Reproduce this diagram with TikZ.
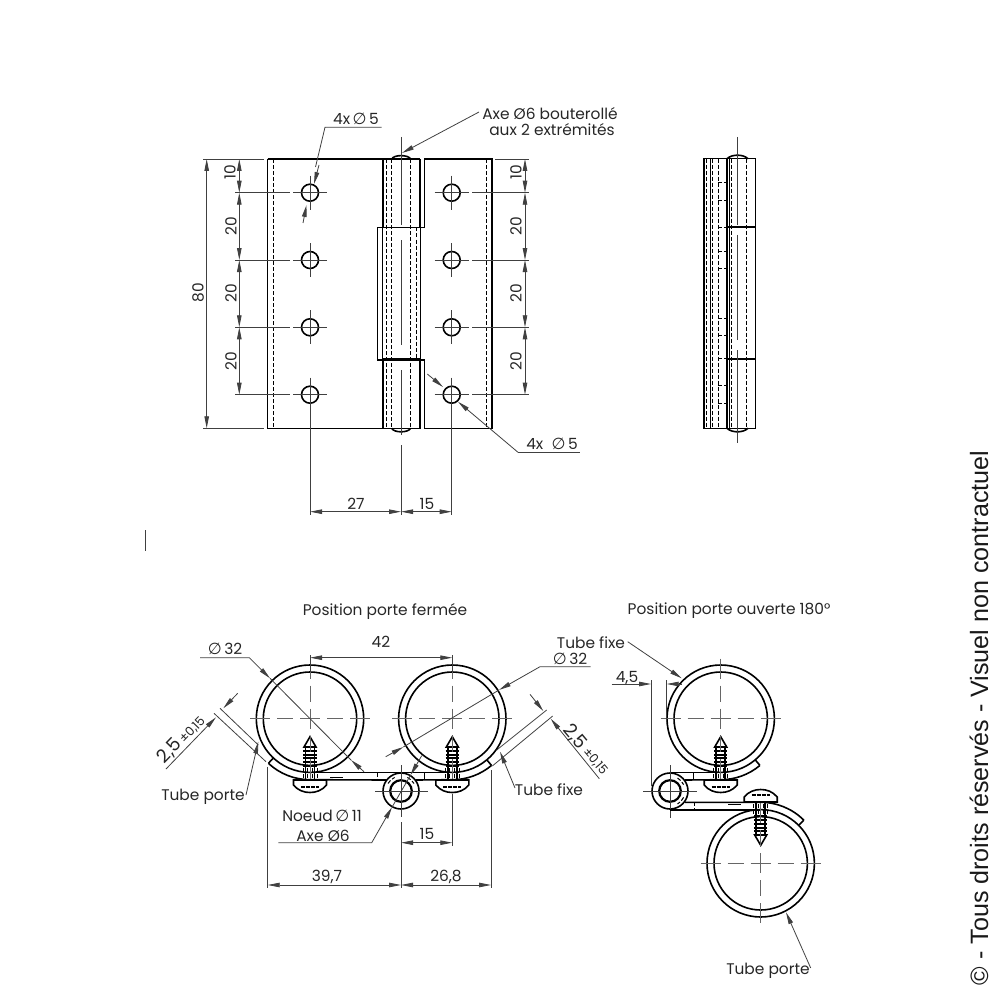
\documentclass[tikz,border=0pt]{standalone}
\usepackage{fontspec}
\setmainfont{Poppins}
\newfontfamily\symfont{DejaVu Sans}
\newfontfamily\notefont{Liberation Sans}
\usetikzlibrary{arrows.meta}
\newcommand{\diam}{{\symfont\fontsize{16}{16}\selectfont ∅}}
\tikzset{
  >={Triangle[length=12pt,width=4.5pt]},
  outline/.style={draw=black,line width=1.6pt},
  hidden/.style={draw=black,line width=1pt,dash pattern=on 4pt off 2pt},
  thinline/.style={draw=black!75,line width=0.8pt},
  dimline/.style={draw=black!75,line width=0.8pt,<->},
  axisline/.style={draw=black!60,line width=0.8pt,dash pattern=on 20pt off 7pt on 16pt off 7pt},
  label/.style={inner sep=0pt,text=black!85,font=\fontsize{15.4}{17}\selectfont},
  wall/.style={inner sep=0pt,text=black!85,font=\fontsize{18.5}{20}\selectfont},
  small/.style={inner sep=0pt,text=black!85,font=\fontsize{12.5}{14}\selectfont},
  hole/.pic={
    \draw[outline] (0,0) circle (8.5);
    \draw[thinline] (-17,0) -- (17,0) (0,-17) -- (0,17);
  },
  screw/.pic={
    % head
    \draw[outline] (-16.5,0) -- (16.5,0) -- (16.5,5) .. controls (12,10.5) and (6,12.5) .. (0,12.5) .. controls (-6,12.5) and (-12,10.5) .. (-16.5,5) -- cycle;
    \draw[line width=1.6pt,dash pattern=on 4pt off 1pt] (-9,7) -- (9,7);
    % tip
    \draw[outline] (0,-43.3) -- (-6,-33) -- (6,-33) -- cycle;
    \draw[outline] (-4.5,-33) -- (-4.5,0) (4.5,-33) -- (4.5,0);
    % threads
    \draw[line width=2pt] (-6.7,-29.3) -- (6.7,-29.3) (-6.7,-25.5) -- (6.7,-25.5) (-6.7,-21.7) -- (6.7,-21.7) (-6.7,-18) -- (6.7,-18) (-6.7,-14.3) -- (6.7,-14.3);
    \draw[hidden] (-7,-12) -- (-7,0) (-2.5,-12) -- (-2.5,0) (2.5,-12) -- (2.5,0) (7,-12) -- (7,0);
  },
  knot/.pic={
    \draw[outline] (0,0) circle (18);
    \draw[line width=2.2pt] (0,0) circle (10.8);
  },
}
\begin{document}
\begin{tikzpicture}[x=1pt,y=-1pt]
  \useasboundingbox (0,0) rectangle (1000,1000);
  % front view, plates
  \draw[outline] (267.5,159) -- (420,159) (424.3,159) -- (491.7,159) -- (491.7,428.3) -- (424.3,428.3) -- (424.3,360) -- (377.3,360) -- (377.3,227.5) -- (424.3,227.5) -- (424.3,159);
  \draw[outline] (267.5,159) -- (267.5,428.3) -- (420,428.3) -- (420,360);
  \draw[outline] (420,159) -- (420,227.5) (382.7,159) -- (382.7,227.5) (382.7,360) -- (382.7,428.3);
  \draw[draw=black,line width=1pt] (382.7,227.5) -- (382.7,360) (420,227.5) -- (420,360);
  \draw[outline] (382.7,358.3) -- (420,358.3);
  \draw[outline] (391.7,159) .. controls (394,154.5) and (408,154.5) .. (410.7,159);
  \draw[outline] (391.7,428.3) .. controls (394,433) and (408,433) .. (410.7,428.3);
  \draw[hidden] (273.5,159) -- (273.5,428.3);
  \draw[hidden] (486,159) -- (486,428.3);
  \draw[hidden] (386.7,159) -- (386.7,428.3);
  \draw[hidden,line width=1.4pt] (391.7,159) -- (391.7,428.3);
  \draw[hidden,line width=1.4pt] (410.7,159) -- (410.7,428.3);
  \draw[hidden] (416.7,227.5) -- (416.7,360);
  % front view, holes
  \pic at (310,192.7) {hole};
  \pic at (310,260) {hole};
  \pic at (310,327.3) {hole};
  \pic at (310,394.7) {hole};
  \pic at (451.7,192.7) {hole};
  \pic at (451.7,260) {hole};
  \pic at (451.7,327.3) {hole};
  \pic at (451.7,394.7) {hole};
  % front view, axis and extension lines
  \draw[thinline] (401,137) -- (401,225) (401,240) -- (401,345) (401,370) -- (401,435) (401,445) -- (401,515);
  \draw[thinline] (203,159) -- (264,159) (203,428.3) -- (264,428.3) (495,159) -- (529,159);
  \draw[thinline] (235,192.7) -- (290,192.7) (235,260) -- (290,260) (235,327.3) -- (290,327.3) (235,394.7) -- (290,394.7);
  \draw[thinline] (472,192.7) -- (529,192.7) (472,260) -- (529,260) (472,327.3) -- (529,327.3) (472,394.7) -- (529,394.7);
  \draw[thinline] (310,411) -- (310,515) (451.7,411) -- (451.7,515);
  % front view, dimensions
  \draw[dimline] (206.7,159) -- (206.7,428.3);
  \draw[dimline] (239.3,159) -- (239.3,192.7);
  \draw[dimline] (239.3,192.7) -- (239.3,260);
  \draw[dimline] (239.3,260) -- (239.3,327.3);
  \draw[dimline] (239.3,327.3) -- (239.3,394.7);
  \draw[dimline] (525,159) -- (525,192.7);
  \draw[dimline] (525,192.7) -- (525,260);
  \draw[dimline] (525,260) -- (525,327.3);
  \draw[dimline] (525,327.3) -- (525,394.7);
  \draw[dimline] (310,511.7) -- (401,511.7);
  \draw[dimline] (401,511.7) -- (451.7,511.7);
  \node[label,rotate=90] (heightall) at (198,293) {80};
  \node[label,rotate=90] (lefta) at (230,172) {10};
  \node[label,rotate=90] (leftb) at (231,226) {20};
  \node[label,rotate=90] (leftc) at (231,293) {20};
  \node[label,rotate=90] (leftd) at (231,361) {20};
  \node[label,rotate=90] (righta) at (516,172) {10};
  \node[label,rotate=90] (rightb) at (516,226) {20};
  \node[label,rotate=90] (rightc) at (516,293) {20};
  \node[label,rotate=90] (rightd) at (516,361) {20};
  \node[label] (widtha) at (356,504) {27};
  \node[label] (widthb) at (427,504) {15};
  % front view, leaders
  \node[label] (holesa) at (356,119) {4x\,\diam\,5};
  \draw[thinline] (381.7,127.3) -- (325,127.3) -- (315.5,167);
  \draw[thinline,->] (319,165) -- (314,184);
  \draw[thinline,->] (303,223) -- (306.5,205);
  \node[label] (holesb) at (552,444) {4x\ \ \diam\,5};
  \draw[thinline,->] (427.3,374) -- (443,387);
  \draw[thinline,<-] (458,401.7) -- (518,452.3);
  \draw[thinline] (518,452.3) -- (580,452.3);
  \node[label] (axea) at (550,114) {Axe Ø6 bouterollé};
  \node[label] (axeb) at (552,130) {aux 2 extrémités};
  \draw[thinline,->] (479,112) -- (402,153);
  % side view
  \draw[outline] (704,158.7) -- (755.3,158.7) -- (755.3,428.3) -- (704,428.3) -- cycle;
  \draw[outline] (710.3,158.7) -- (710.3,428.3);
  \draw[outline] (727,158.7) -- (727,428.3);
  \draw[draw=black,line width=1pt] (729,158.7) -- (729,428.3);
  \draw[outline] (727,158.7) .. controls (732,154) and (743,154) .. (748,158.7);
  \draw[outline] (727,428.3) .. controls (732,433) and (743,433) .. (748,428.3);
  \draw[line width=2.2pt] (727,227.3) -- (755.3,227.3) (727,358.7) -- (755.3,358.7);
  \draw[hidden] (706.5,158.7) -- (706.5,428.3);
  \draw[hidden] (712.3,158.7) -- (712.3,428.3);
  \draw[hidden] (718.3,158.7) -- (718.3,428.3);
  \draw[hidden] (731.7,158.7) -- (731.7,428.3);
  \draw[hidden] (746.7,158.7) -- (746.7,428.3);
  \draw[hidden] (718.3,183) -- (726,183) (718.3,201) -- (726,201) (718.3,227.3) -- (727,227.3);
  \draw[hidden] (718.3,251.7) -- (726,251.7) (718.3,268) -- (726,268);
  \draw[hidden] (718.3,318) -- (726,318) (718.3,335) -- (726,335) (718.3,358.7) -- (727,358.7);
  \draw[hidden] (718.3,385.7) -- (726,385.7) (718.3,403) -- (726,403);
  \draw[thinline] (737,137) -- (737,225) (737,235) -- (737,340) (737,350) -- (737,443);
  % stray tick
  \draw[thinline] (145,530) -- (145,551);
  % titles
  \node[label] (closed) at (385,611) {Position porte fermée};
  \node[label] (opened) at (729,611) {Position porte ouverte 180°};
  % closed position, tubes
  \coordinate (ringa) at (310,718.7);
  \coordinate (ringb) at (452.3,718.7);
  \coordinate (ringc) at (720.7,718.7);
  \coordinate (ringd) at (760.7,863.3);
  \coordinate (knota) at (401,791);
  \coordinate (knotb) at (670,791);
  \draw[outline] (ringa) circle (53.7) (ringa) circle (46.7);
  \draw[outline] (ringb) circle (53.7) (ringb) circle (46.7);
  \draw[outline] ([shift={(133:61)}]ringa) arc (133:90:61) -- (386.7,780);
  \draw[outline] ([shift={(133:54)}]ringa) -- ([shift={(133:61)}]ringa);
  \draw[outline] (310,772.5) -- (452.3,772.5);
  \draw[outline] ([shift={(50:61)}]ringb) arc (50:90:61) -- (415.5,780);
  \draw[outline] (424.3,772.5) -- (424.3,780);
  \draw[outline] ([shift={(50:54)}]ringb) -- ([shift={(50:61)}]ringb);
  \draw[hidden] (377.3,772.5) -- (377.3,780);
  \draw[line width=1.2pt] (330,777.7) -- (343,777.7);
  \pic at (310,780) {screw};
  \pic at (452.3,780) {screw};
  \pic at (knota) {knot};
  \draw[hidden] ([shift={(-150:15)}]knota) arc (-150:-115:15);
  \draw[hidden] ([shift={(-65:15)}]knota) arc (-65:-30:15);
  \draw[axisline] (250,718.7) -- (370,718.7) (310,658.7) -- (310,778.7);
  \draw[axisline] (392.3,718.7) -- (512.3,718.7) (452.3,658.7) -- (452.3,778.7);
  \draw[thinline] (375,791) -- (428,791) (401,765) -- (401,817);
  % closed position, dimensions
  \draw[thinline] (310,655) -- (310,672) (452.3,655) -- (452.3,672);
  \draw[dimline] (310,657.7) -- (452.3,657.7);
  \node[label] (centres) at (381,642) {42};
  \draw[thinline] (401,822) -- (401,888) (452.3,794) -- (452.3,846);
  \draw[dimline] (401,842.7) -- (452.3,842.7);
  \node[label] (axisscrew) at (427,834) {15};
  \draw[thinline] (267.7,766.7) -- (267.7,888) (491,770) -- (491,888);
  \draw[dimline] (267.7,885) -- (401,885);
  \draw[dimline] (401,885) -- (491,885);
  \node[label] (overleft) at (327,877) {39,7};
  \node[label] (overright) at (446,877) {26,8};
  % closed position, leaders
  \node[label] (diama) at (225,649) {\diam\,32};
  \draw[thinline,->] (200,657.7) -- (249.3,657.7) -- (270,678.3);
  \draw[thinline,->] (364,771.7) -- (351,760);
  \draw[thinline] (270,678.3) -- (351,760);
  \node[label] (diamb) at (570,659) {\diam\,32};
  \draw[thinline,->] (590.7,666.7) -- (540,666.7) -- (499,690);
  \draw[thinline,->] (385.7,756.7) -- (403.3,747);
  \draw[thinline] (499,690) -- (403.3,747);
  \node[label] (knotdiam) at (322,816) {Noeud\,\diam\,11};
  \node[label] (pindiam) at (323,836) {Axe Ø6};
  \draw[thinline,->] (278.3,842.7) -- (371.7,842.7) -- (392,807.2);
  \draw[thinline,->] (421.7,755.7) -- (410.6,775);
  \draw[thinline] (392,807.2) -- (410.6,775);
  \node[label] (tubeleft) at (203,797) {Tube porte};
  \draw[thinline,->] (246,795) -- (258.3,741.7);
  \node[label] (tuberight) at (549,790) {Tube fixe};
  \draw[thinline,->] (515,788) -- (500,751.7);
  % closed position, wall thickness
  \draw[thinline,->] (166,769) -- (216,717.3);
  \draw[thinline,->] (237.7,693.3) -- (223.3,708.3);
  \draw[thinline] (220,708.3) -- (258.3,745) (214,713.3) -- (266,761.7);
  \node[wall,rotate=46] (walla) at (170,751) {2,5};
  \node[small,rotate=46] (wallatol) at (192.5,730) {±0,15};
  \draw[thinline,->] (530,694.3) -- (543.3,711);
  \draw[thinline,->] (599.3,778.7) -- (550.7,718.7);
  \draw[thinline] (546.7,710) -- (496.7,750) (552.7,716) -- (492.3,766);
  \node[wall,rotate=-50] (wallb) at (575,737) {2,5};
  \node[small,rotate=-50] (wallbtol) at (595,761.5) {±0,15};
  % open position, fixed tube
  \draw[outline] (ringc) circle (53.7) (ringc) circle (46.7);
  \draw[outline] ([shift={(50:61)}]ringc) arc (50:90:61) -- (685,780);
  \draw[outline] ([shift={(50:54)}]ringc) -- ([shift={(50:61)}]ringc);
  \draw[outline] (670,772.5) -- (720.7,772.5);
  \draw[outline] (693.3,772.5) -- (693.3,780);
  \pic at (720.7,780) {screw};
  \pic at (knotb) {knot};
  \draw[hidden] ([shift={(-60:15)}]knotb) arc (-60:-25:15);
  \draw[hidden] ([shift={(25:15)}]knotb) arc (25:60:15);
  \draw[axisline] (660.7,718.7) -- (780.7,718.7) (720.7,658.7) -- (720.7,778.7);
  \draw[thinline] (643,791) -- (697,791) (670,765) -- (670,818);
  % open position, door tube
  \draw[outline] (ringd) circle (53.7) (ringd) circle (46.7);
  \draw[outline] ([shift={(-45:61)}]ringd) arc (-45:-90:61) -- (685,802.3);
  \draw[outline] ([shift={(-45:54)}]ringd) -- ([shift={(-45:61)}]ringd);
  \draw[outline] (670,809.7) -- (760.7,809.7);
  \draw[hidden] (694.3,802.3) -- (694.3,809.7);
  \draw[line width=1.2pt] (728,804.5) -- (741,804.5);
  \pic[yscale=-1] at (760.7,802) {screw};
  \draw[axisline] (700.7,863.3) -- (820.7,863.3) (760.7,803.3) -- (760.7,923.3);
  % open position, dimensions and leaders
  \draw[thinline] (651,680) -- (651,786) (666.7,680) -- (666.7,722);
  \draw[thinline,->] (611.7,684) -- (651,684);
  \draw[thinline,->] (682,684) -- (666.7,684);
  \node[label] (gapopen) at (627,678) {4,5};
  \node[label] (tubefixed) at (591,643) {Tube fixe};
  \draw[thinline,->] (627.7,641.7) -- (681.7,678.3);
  \node[label] (tubedoor) at (768,971) {Tube porte};
  \draw[thinline,->] (810.7,968) -- (786,912.3);
  % notice
  \node[inner sep=0pt,rotate=90,text=black!90,font=\notefont\fontsize{25.1}{27}\selectfont] (notice) at (979,718) {© - Tous droits réservés - Visuel non contractuel};
\end{tikzpicture}
\end{document}
